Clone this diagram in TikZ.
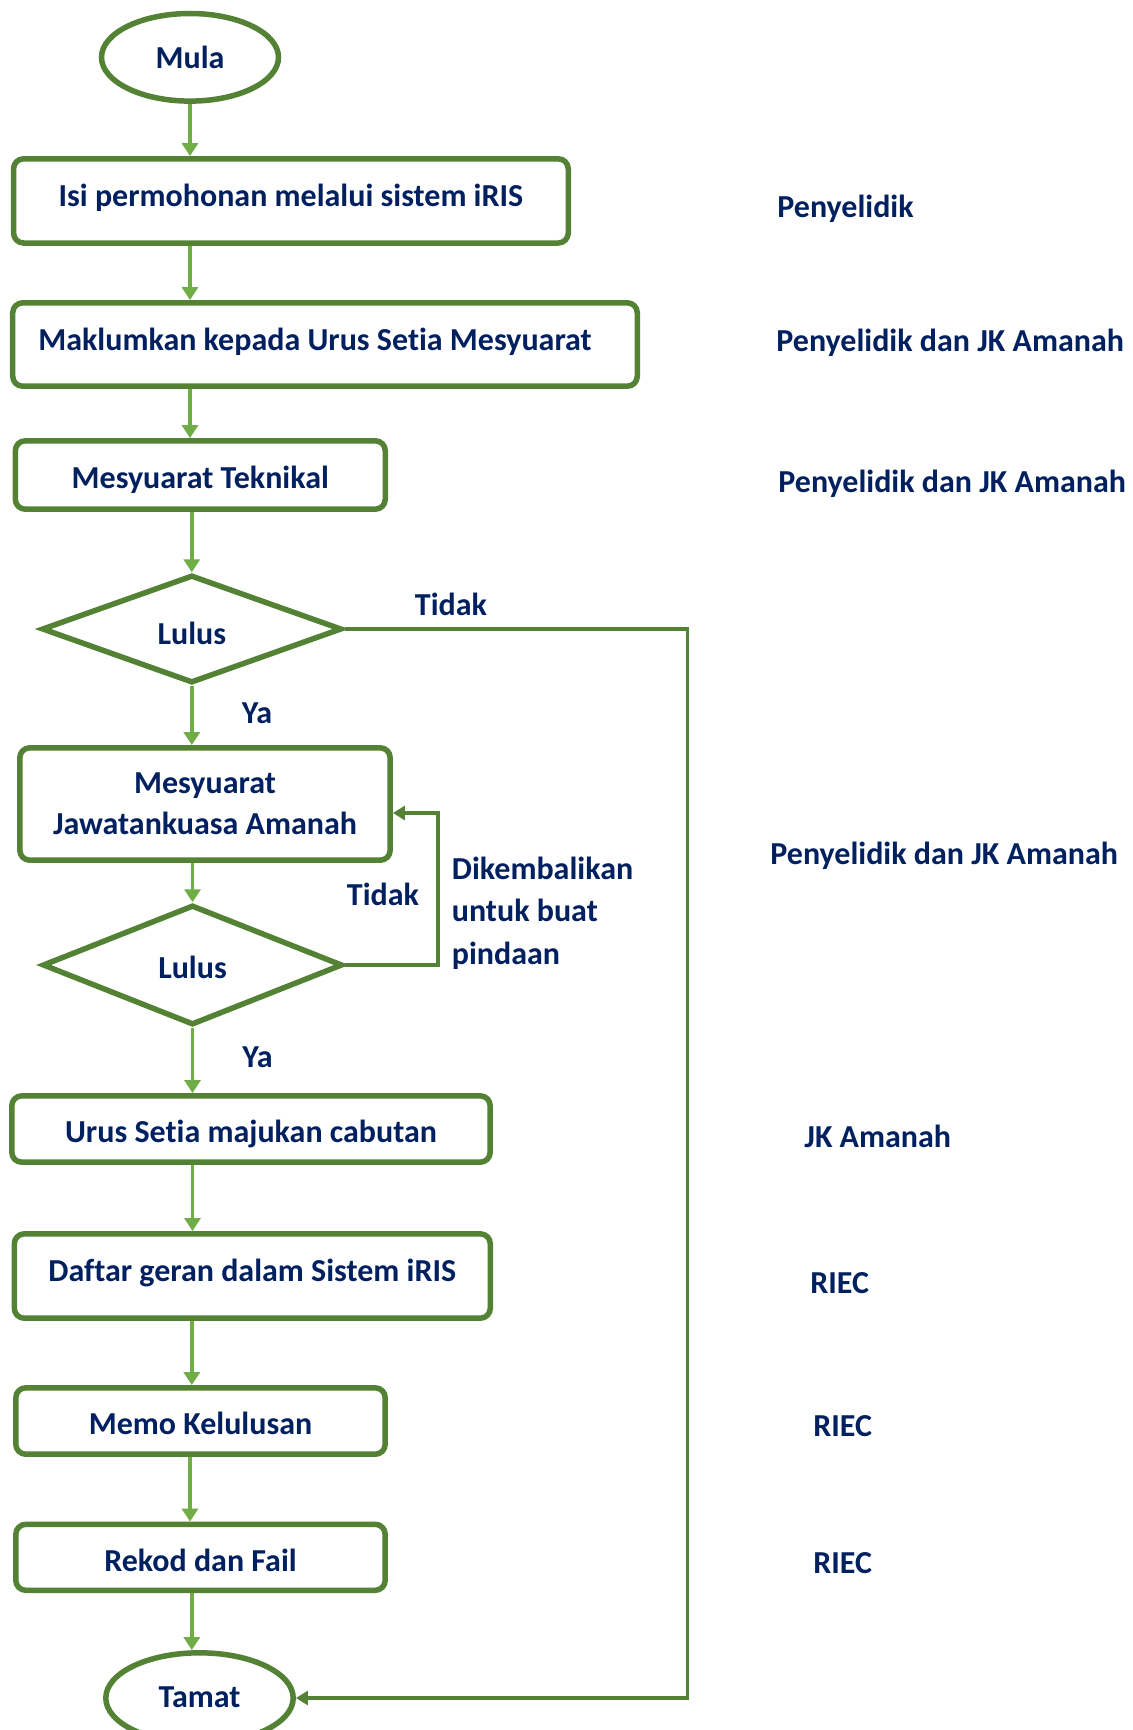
\documentclass[tikz,border=0pt]{standalone}
\usepackage{fontspec}
\setmainfont{Carlito}[Ligatures={NoCommon}]
\usetikzlibrary{arrows.meta,shapes.geometric}
\definecolor{bordergreen}{HTML}{548235}
\definecolor{arrowgreen}{HTML}{70AD47}
\definecolor{navy}{HTML}{002060}
\begin{document}
\begin{tikzpicture}[x=0.5pt,y=-0.5pt,
  every node/.style={font=\fontsize{16}{20.5}\selectfont\bfseries, text=navy},
  procbox/.style={draw=bordergreen, line width=2.75pt, rounded corners=5pt, inner sep=0pt, fill=white},
  termin/.style={draw=bordergreen, line width=2.75pt, ellipse, inner sep=0pt, fill=white},
  decis/.style={draw=bordergreen, line width=2.75pt, diamond, inner sep=0pt, fill=white},
  lbl/.style={anchor=base, inner sep=0pt},
  rlbl/.style={anchor=base west, inner sep=0pt},
  arr/.style={draw=arrowgreen, line width=1.9pt, -{Triangle[width=8pt,length=6.5pt]}},
  loopline/.style={draw=bordergreen, line width=1.9pt, -{Triangle[width=7pt,length=6pt]}}
]
\useasboundingbox (0,0) rectangle (1132,1730);
\fill[white] (0,0) rectangle (1132,1730);

% nodes
\node[termin, minimum width=88.5pt, minimum height=43.8pt, text height=11.3pt, text depth=0pt] (mula) at (190,57.3) {Mula};
\node[procbox, minimum width=277.35pt, minimum height=42.1pt, text height=5.2pt, text depth=0pt] (b1) at (290.9,200.9) {Isi permohonan melalui sistem iRIS};
\node[procbox, minimum width=312.3pt, minimum height=41.7pt, text height=5.6pt, text depth=0pt] (b2) at (325,344.5) {Maklumkan kepada Urus Setia Mesyuarat\hspace*{10pt}};
\node[procbox, minimum width=185pt, minimum height=34.2pt, text height=13.6pt, text depth=0pt] (b3) at (200.3,475) {Mesyuarat Teknikal};
\node[decis, minimum width=150pt, minimum height=54pt, text height=15.6pt, text depth=0pt] (d1) at (191.8,629) {Lulus};
\node[procbox, minimum width=185.2pt, minimum height=56.2pt, align=center] (b4) at (205,804) {Mesyuarat\\Jawatankuasa Amanah};
\node[decis, minimum width=150pt, minimum height=60pt, text height=13.1pt, text depth=0pt] (d2) at (192.5,965) {Lulus};
\node[procbox, minimum width=239.2pt, minimum height=33.2pt, text height=13.1pt, text depth=0pt] (b5) at (251,1129) {Urus Setia majukan cabutan};
\node[procbox, minimum width=238pt, minimum height=42.2pt, text height=5.6pt, text depth=0pt] (b6) at (252.3,1276) {Daftar geran dalam Sistem iRIS};
\node[procbox, minimum width=184.7pt, minimum height=33.2pt, text height=13.6pt, text depth=0pt] (b7) at (200.5,1421) {Memo Kelulusan};
\node[procbox, minimum width=184.7pt, minimum height=33pt, text height=13.8pt, text depth=0pt] (b8) at (200.5,1557.3) {Rekod dan Fail};
\node[termin, minimum width=93.7pt, minimum height=45.2pt, text height=9.1pt, text depth=0pt] (tamat) at (199.5,1698) {Tamat};

% main flow arrows
\draw[arr] (mula.south) -- (mula.south |- b1.north);
\draw[arr] (b1.south -| mula.south) -- (b2.north -| mula.south);
\draw[arr] (b2.south -| mula.south) -- (b3.north -| mula.south);
\draw[arr] (b3.south -| d1.north) -- (d1.north);
\draw[arr] (d1.south) -- (d1.south |- b4.north);
\draw[arr] (b4.south -| d2.north) -- (d2.north);
\draw[arr] (d2.south) -- (d2.south |- b5.north);
\draw[arr] (b5.south -| d2.south) -- (b6.north -| d2.south);
\draw[arr] (b6.south -| d1.south) -- (b7.north -| d1.south);
\draw[arr] (b7.south -| mula.south) -- (b8.north -| mula.south);
\draw[arr] (b8.south -| d1.south) -- (tamat.north -| d1.south);

% loops
\coordinate (c1) at (687.5,629);
\draw[loopline] (d1.east) -- (c1) |- (tamat.east);
\coordinate (c2) at (438,965);
\coordinate (c3) at (438,813);
\draw[loopline] (d2.east) -- (c2) -- (c3) -- (c3 -| b4.east);

% labels
\node[lbl] (t1) at (451,615) {Tidak};
\node[lbl] (y1) at (257,723) {Ya};
\node[lbl] (t2) at (383,905) {Tidak};
\node[lbl] (y2) at (257.5,1067) {Ya};
\node[rlbl] (k1) at (451.5,879) {Dikembalikan};
\node[rlbl] (k2) at (451.5,921.5) {untuk buat};
\node[rlbl] (k3) at (451.5,964.5) {pindaan};

% right column
\node[rlbl] (r1) at (777,217) {Penyelidik};
\node[rlbl] (r2) at (776,351) {Penyelidik dan JK Amanah};
\node[rlbl] (r3) at (778,492) {Penyelidik dan JK Amanah};
\node[rlbl] (r4) at (770,864) {Penyelidik dan JK Amanah};
\node[rlbl] (r5) at (804,1147) {JK Amanah};
\node[rlbl] (r6) at (810,1293) {RIEC};
\node[rlbl] (r7) at (813,1436) {RIEC};
\node[rlbl] (r8) at (813,1573) {RIEC};
\end{tikzpicture}
\end{document}
